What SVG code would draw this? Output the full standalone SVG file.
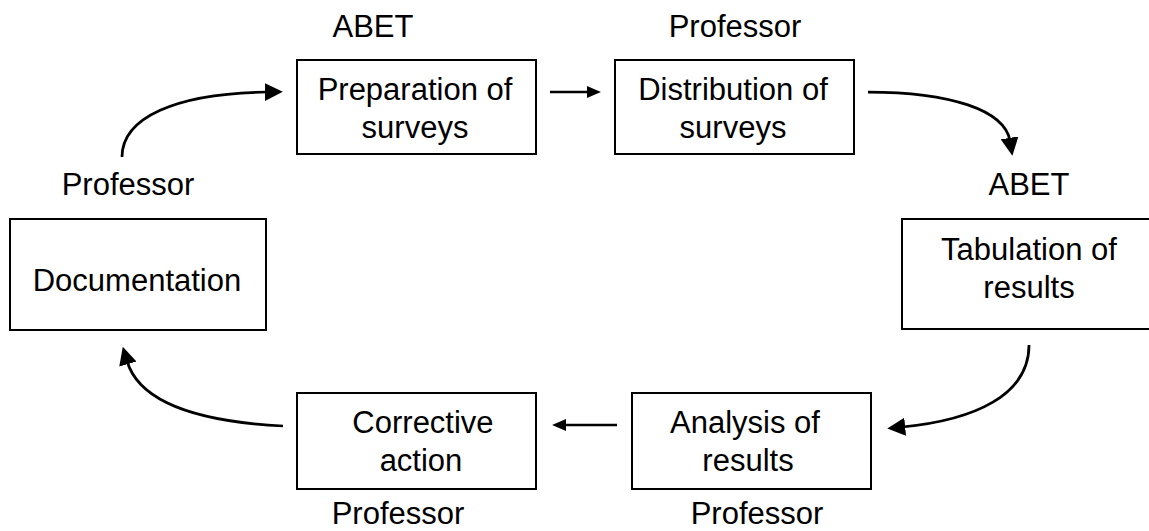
<svg xmlns="http://www.w3.org/2000/svg" width="1149" height="531" viewBox="0 0 1149 531">
<style>
.box{fill:#fff;stroke:#000;stroke-width:2}
.t{font-family:"Liberation Sans",Arial,sans-serif;font-size:31px;fill:#000;text-anchor:middle}
.c{fill:none;stroke:#000;stroke-width:2.75}
.s{fill:none;stroke:#000;stroke-width:2.5}
</style>
<defs>
<marker id="ah" markerUnits="userSpaceOnUse" markerWidth="18" markerHeight="18" viewBox="0 0 17 17" refX="3" refY="8.5" orient="auto">
<path d="M0,0 L17,8.5 L0,17 z" fill="#000"/>
</marker>
<marker id="as" markerUnits="userSpaceOnUse" markerWidth="14" markerHeight="12" viewBox="0 0 13 11" refX="1" refY="5.5" orient="auto">
<path d="M0,0 L13,5.5 L0,11 z" fill="#000"/>
</marker>
</defs>
<rect width="1149" height="531" fill="#fff"/>
<g id="connectors">
<path class="c" d="M122,157 C122,118 175,93 268,92" marker-end="url(#ah)"/>
<path class="s" d="M550,92 L588,92" marker-end="url(#as)"/>
<path class="c" d="M868,92 C950,92 1005,110 1010,141" marker-end="url(#ah)"/>
<path class="c" d="M1029,345 C1029,395 975,420 902,427" marker-end="url(#ah)"/>
<path class="s" d="M617,425 L565,425" marker-end="url(#as)"/>
<path class="c" d="M283,426 C205,422 140,405 127,361" marker-end="url(#ah)"/>
</g>
<g id="prep">
<text class="t" x="373" y="37">ABET</text>
<rect class="box" x="297" y="60" width="239" height="94"/>
<text class="t" x="415" y="100">Preparation of</text>
<text class="t" x="415" y="138">surveys</text>
</g>
<g id="dist">
<text class="t" x="735" y="37">Professor</text>
<rect class="box" x="615" y="60" width="239" height="94"/>
<text class="t" x="733" y="100">Distribution of</text>
<text class="t" x="733" y="138">surveys</text>
</g>
<g id="tab">
<text class="t" x="1029" y="195">ABET</text>
<rect class="box" x="902" y="219" width="260" height="110"/>
<text class="t" x="1029" y="260">Tabulation of</text>
<text class="t" x="1029" y="298">results</text>
</g>
<g id="analysis">
<rect class="box" x="632" y="393" width="239" height="96"/>
<text class="t" x="745" y="433">Analysis of</text>
<text class="t" x="748" y="471">results</text>
<text class="t" x="757" y="524">Professor</text>
</g>
<g id="corrective">
<rect class="box" x="297" y="393" width="239" height="96"/>
<text class="t" x="423" y="433">Corrective</text>
<text class="t" x="421" y="471">action</text>
<text class="t" x="398" y="524">Professor</text>
</g>
<g id="doc">
<text class="t" x="128" y="195">Professor</text>
<rect class="box" x="10" y="219" width="256" height="111"/>
<text class="t" x="137" y="291">Documentation</text>
</g>
</svg>
